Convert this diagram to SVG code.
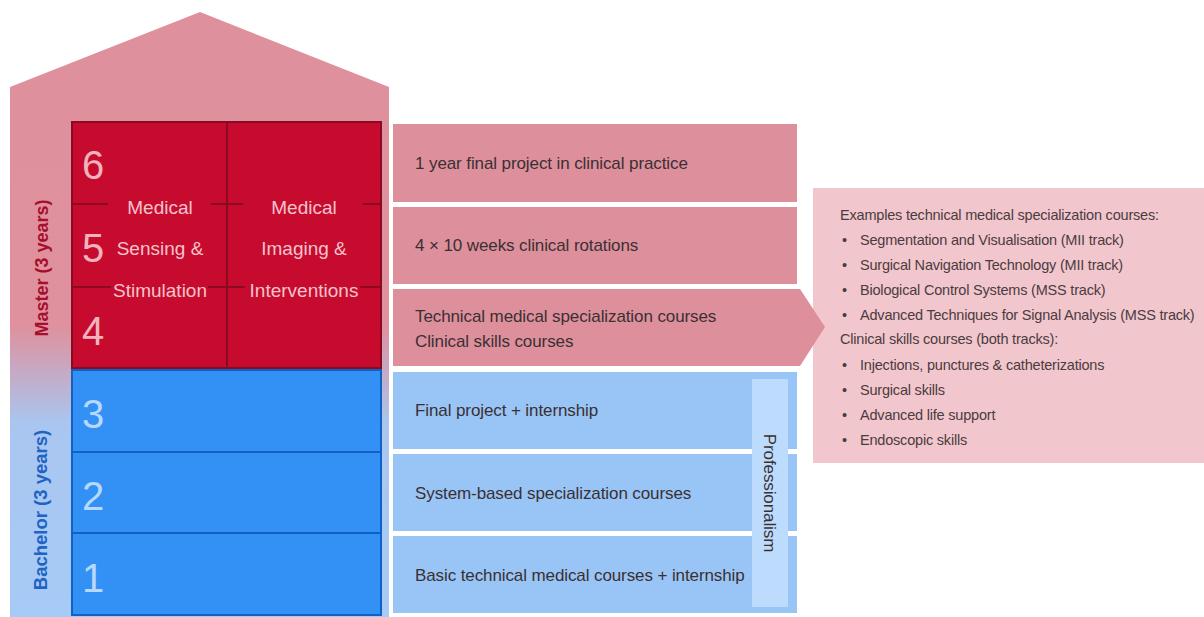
<svg xmlns="http://www.w3.org/2000/svg" width="1204" height="617" viewBox="0 0 1204 617">
<defs>
<linearGradient id="houseGrad" gradientUnits="userSpaceOnUse" x1="0" y1="12" x2="0" y2="617">
<stop offset="0" stop-color="#df909d"/>
<stop offset="0.52" stop-color="#df919e"/>
<stop offset="0.68" stop-color="#a9c6f0"/>
<stop offset="1" stop-color="#a6cbf6"/>
</linearGradient>
</defs>
<style>
text{font-family:"Liberation Sans",Arial,sans-serif}
.num-r{font-size:40px;fill:#f2b3bd}
.num-b{font-size:40px;fill:#b7d8ff}
.track{font-size:19px;fill:#f5c3cb;text-anchor:middle}
.course{font-size:17px;fill:#3a3033;letter-spacing:-0.1px}
.info{font-size:14.5px;fill:#4a3c40;letter-spacing:-0.2px}
.pinkbox{fill:#de8f9c}
.bluebox{fill:#99c5f6}
.redcell{fill:#c70b2e;stroke:#8a0a22;stroke-width:2}
.bluecell{fill:#3391f6;stroke:#1161c4;stroke-width:2}
.dash{stroke:#8a0a22;stroke-width:2}
</style>
<g id="house">
<polygon points="10,87 200,12 389,87 389,617 10,617" fill="url(#houseGrad)"/>
<text transform="translate(48,268) rotate(-90)" text-anchor="middle" font-size="18" font-weight="bold" fill="#a50e2c">Master (3 years)</text>
<text transform="translate(47,510) rotate(-90)" text-anchor="middle" font-size="18.5" font-weight="bold" fill="#1f63c4">Bachelor (3 years)</text>
</g>
<g id="master-block">
<rect class="redcell" x="72" y="122" width="309" height="246"/>
<line x1="227" y1="122" x2="227" y2="368" class="dash"/>
<line x1="72" y1="204" x2="108" y2="204" class="dash"/>
<line x1="211" y1="204" x2="243" y2="204" class="dash"/>
<line x1="363" y1="204" x2="381" y2="204" class="dash"/>
<line x1="72" y1="287" x2="111" y2="287" class="dash"/>
<line x1="208" y1="287" x2="245" y2="287" class="dash"/>
<line x1="360" y1="287" x2="381" y2="287" class="dash"/>
<text class="num-r" x="82" y="179">6</text>
<text class="num-r" x="82" y="262">5</text>
<text class="num-r" x="82" y="345">4</text>
<text class="track" x="160" y="214">Medical</text>
<text class="track" x="160" y="255">Sensing &amp;</text>
<text class="track" x="160" y="297">Stimulation</text>
<text class="track" x="304" y="214">Medical</text>
<text class="track" x="304" y="255">Imaging &amp;</text>
<text class="track" x="304" y="297">Interventions</text>
</g>
<g id="bachelor-block">
<rect class="bluecell" x="72" y="370" width="309" height="82"/>
<rect class="bluecell" x="72" y="452" width="309" height="81"/>
<rect class="bluecell" x="72" y="533" width="309" height="82"/>
<text class="num-b" x="82" y="428">3</text>
<text class="num-b" x="82" y="510">2</text>
<text class="num-b" x="82" y="592">1</text>
</g>
<g id="year6"><rect class="pinkbox" x="393" y="124" width="404" height="78"/><text class="course" x="415" y="169">1 year final project in clinical practice</text></g>
<g id="year5"><rect class="pinkbox" x="393" y="207" width="404" height="77"/><text class="course" x="415" y="251">4 × 10 weeks clinical rotations</text></g>
<g id="info-box">
<rect x="813" y="188" width="395" height="275" fill="#f2c6cd"/>
<text class="info" x="840" y="220">Examples technical medical specialization courses:</text>
<text class="info" x="842" y="245">•</text><text class="info" x="860" y="245">Segmentation and Visualisation (MII track)</text>
<text class="info" x="842" y="270">•</text><text class="info" x="860" y="270">Surgical Navigation Technology (MII track)</text>
<text class="info" x="842" y="295">•</text><text class="info" x="860" y="295">Biological Control Systems (MSS track)</text>
<text class="info" x="842" y="320">•</text><text class="info" x="860" y="320">Advanced Techniques for Signal Analysis (MSS track)</text>
<text class="info" x="840" y="344">Clinical skills courses (both tracks):</text>
<text class="info" x="842" y="370">•</text><text class="info" x="860" y="370">Injections, punctures &amp; catheterizations</text>
<text class="info" x="842" y="395">•</text><text class="info" x="860" y="395">Surgical skills</text>
<text class="info" x="842" y="420">•</text><text class="info" x="860" y="420">Advanced life support</text>
<text class="info" x="842" y="445">•</text><text class="info" x="860" y="445">Endoscopic skills</text>
</g>
<g id="year4"><polygon class="pinkbox" points="393,289 800,289 825,327 800,366 393,366"/><text class="course" x="415" y="322">Technical medical specialization courses</text><text class="course" x="415" y="347">Clinical skills courses</text></g>
<g id="year3"><rect class="bluebox" x="393" y="372" width="404" height="77"/><text class="course" x="415" y="416">Final project + internship</text></g>
<g id="year2"><rect class="bluebox" x="393" y="454" width="404" height="77"/><text class="course" x="415" y="499">System-based specialization courses</text></g>
<g id="year1"><rect class="bluebox" x="393" y="536" width="404" height="77"/><text class="course" x="415" y="581">Basic technical medical courses + internship</text></g>
<g id="professionalism">
<rect x="752" y="379" width="36" height="228" fill="#bddcfd"/>
<text transform="translate(764,493) rotate(90)" text-anchor="middle" class="course">Professionalism</text>
</g>
<g id="connectors"></g>
</svg>
